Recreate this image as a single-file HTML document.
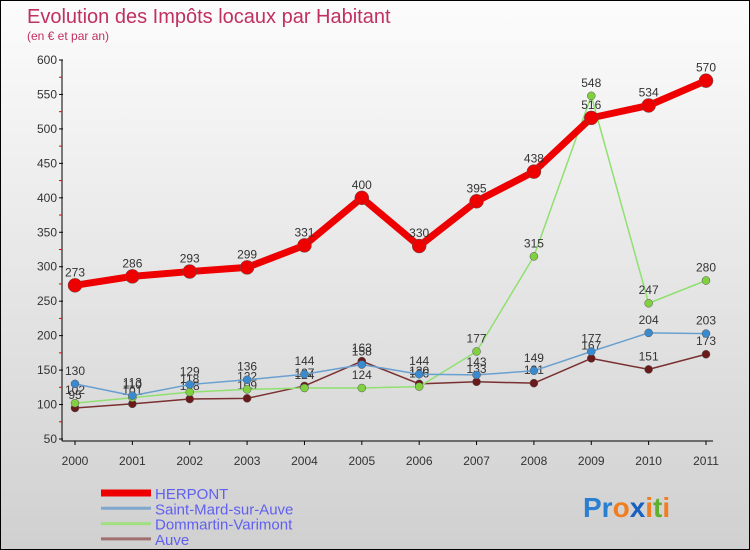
<!DOCTYPE html>
<html><head><meta charset="utf-8"><style>
body{margin:0;width:750px;height:550px;overflow:hidden;font-family:"Liberation Sans",sans-serif;}
#wrap{position:relative;width:748px;height:548px;border:1px solid #000;background:linear-gradient(#fcfcfc,#d0d0d0);}
</style></head><body>
<div id="wrap">
<svg id="chart" width="748" height="548" style="position:absolute;left:0;top:0">
<text x="26" y="22" font-size="20" fill="#c03060">Evolution des Impôts locaux par Habitant</text>
<text x="26" y="39" font-size="12" fill="#c03060">(en € et par an)</text>
</svg>
</div>
<script>
const years=["2000","2001","2002","2003","2004","2005","2006","2007","2008","2009","2010","2011"];
const yTicks=[50,100,150,200,250,300,350,400,450,500,550,600];
const herpont=[273,286,293,299,331,400,330,395,438,516,534,570];
const saintMard=[130,113,129,136,144,158,144,143,149,177,204,203];
const dommartin=[102,110,118,122,124,124,126,177,315,548,247,280];
const auve=[95,101,108,109,127,163,130,133,131,167,151,173];
const svg=document.getElementById('chart');
const NS='http://www.w3.org/2000/svg';
function X(i){return 74+i*(705-74)/11;}
function Y(v){return 438-(v-50)*(438-59)/550;}
function mk(t,a,p){const e=document.createElementNS(NS,t);for(const k in a)e.setAttribute(k,a[k]);(p||svg).appendChild(e);return e;}
const axis=mk('g',{});


mk('line',{x1:61,y1:59,x2:61,y2:440,stroke:'#000'},axis);
mk('line',{x1:61,y1:440,x2:712,y2:440,stroke:'#000'},axis);
yTicks.forEach(v=>{
  mk('line',{x1:58,y1:Y(v),x2:62,y2:Y(v),stroke:'#000'},axis);
  if(v<600) mk('line',{x1:58,y1:Y(v+25),x2:61,y2:Y(v+25),stroke:'#e00'},axis);
  const t=mk('text',{x:56,y:Y(v)+4,'font-size':12,fill:'#333','text-anchor':'end'},axis);
  t.textContent=v;
  
  
});
years.forEach((y,i)=>{
  mk('line',{x1:X(i),y1:440,x2:X(i),y2:444,stroke:'#000'},axis);
  const t=mk('text',{x:X(i),y:464,'font-size':12,fill:'#333','text-anchor':'middle'},axis);
  t.textContent=y;
  
  
});
function series(data,color,dot,w,r,name,fs){
  const g=mk('g',{});
  
  
  mk('polyline',{points:data.map((v,i)=>X(i)+','+Y(v)).join(' '),fill:'none',stroke:color,'stroke-width':w,'stroke-linejoin':'round'},g);
  data.forEach((v,i)=>{
    const c=mk('circle',{cx:X(i),cy:Y(v),r:r,fill:dot,stroke:'#555','stroke-width':0.5},g);
    
    
    const t=mk('text',{x:X(i),y:Y(v)-9,'font-size':fs,fill:'#333','text-anchor':'middle'},g);
    t.textContent=v;
    
    
  });
}
series(auve,'#7a3030','#6a1a1a',1.5,4,'auve',12);
series(dommartin,'#90e070','#80d040',1.5,4,'dommartin',12);
series(saintMard,'#6aa0d0','#3a8ad0',1.5,4,'saint-mard',12);
series(herpont,'#ee0000','#ee0000',7,7,'herpont',12);
const names=['HERPONT','Saint-Mard-sur-Auve','Dommartin-Varimont','Auve'];
const cols=['#ee0000','#80a8cc','#a0e080','#a07070'];
const ws=[7,3,3,3];
names.forEach((n,i)=>{
  const g=mk('g',{});
  
  
  const yy=492+i*15.3;
  mk('line',{x1:100,y1:yy,x2:150,y2:yy,stroke:cols[i],'stroke-width':ws[i]},g);
  const t=mk('text',{x:154,y:yy+6,'font-size':15,fill:'#6060f0'},g);
  t.textContent=n;
});
const lg=mk('text',{x:582,y:516,'font-size':28,'font-weight':'bold'});


lg.innerHTML='<tspan fill="#2a7fd0">Pr</tspan><tspan fill="#f07d20">o</tspan><tspan fill="#1a60c0">x</tspan><tspan fill="#f07d20">i</tspan><tspan fill="#60b030">t</tspan><tspan fill="#f07d20">i</tspan>';
</script>
</body></html>
